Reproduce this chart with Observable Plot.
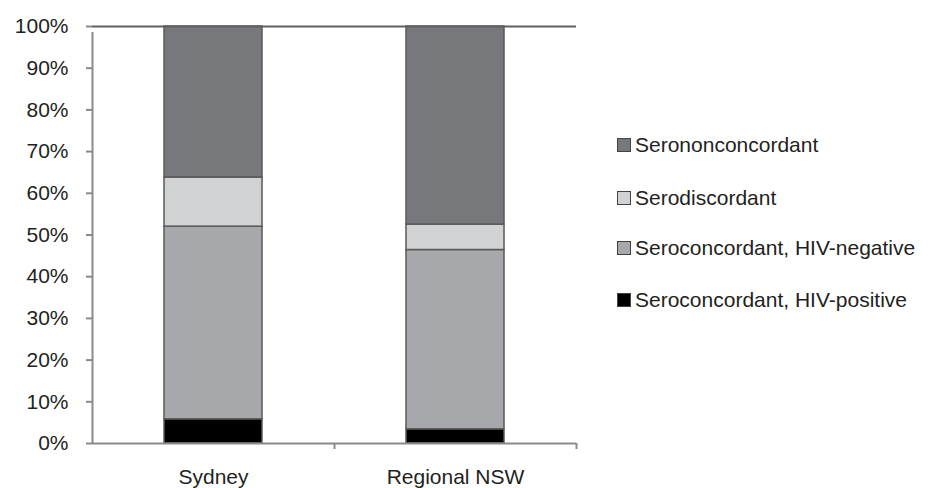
<!DOCTYPE html>
<html>
<head>
<meta charset="utf-8">
<script src="https://cdn.jsdelivr.net/npm/d3@7"></script>
<script src="https://cdn.jsdelivr.net/npm/@observablehq/plot@0.6"></script>
<style>
  html, body { margin: 0; padding: 0; background: #fff; }
  #wrap { position: relative; width: 934px; height: 488px; font-family: "Liberation Sans", Arial, sans-serif; }
  #legend { position: absolute; left: 617px; top: 0; }
  .item { position: absolute; left: 0; white-space: nowrap; font-size: 21px; color: #231f20; display: flex; align-items: center; height: 24px; }
  .sw { width: 12px; height: 12px; border: 1px solid #444; margin-right: 4px; box-sizing: content-box; }
</style>
</head>
<body>
<div id="wrap"><div id="legend"></div></div>
<script>
const sites = ["Sydney", "Regional NSW"];
const categories = ["Seroconcordant, HIV-positive", "Seroconcordant, HIV-negative", "Serodiscordant", "Serononconcordant"];
const sydney = [5.8, 46.2, 11.8, 36.2];
const regional = [3.4, 43.0, 6.1, 47.5];
const yTicks = [0, 10, 20, 30, 40, 50, 60, 70, 80, 90, 100];
const colors = ["#000000", "#a7a8ab", "#d1d2d4", "#77787b"];

const data = [];
categories.forEach((c, i) => {
  data.push({site: sites[0], category: c, value: sydney[i]});
  data.push({site: sites[1], category: c, value: regional[i]});
});

const W = 934, H = 488, mL = 92, mR = 358, mT = 26, mB = 45;
const step = (W - mL - mR) / sites.length;
const axisColor = "#8a8a8c";
const pIn = 0.595;

const plot = Plot.plot({
  width: W,
  height: H,
  marginLeft: mL,
  marginRight: mR,
  marginTop: mT,
  marginBottom: mB,
  style: {fontFamily: "'Liberation Sans', Arial, sans-serif", fontSize: "21px", color: "#231f20", background: "#fff", overflow: "visible"},
  x: {domain: sites, paddingInner: pIn, paddingOuter: pIn / 2, label: null},
  y: {domain: [0, 100], label: null},
  color: {domain: categories, range: colors},
  marks: [
    Plot.barY(data, {x: "site", y: "value", fill: "category", order: categories, stroke: "#595959", strokeWidth: 1.5}),
    Plot.ruleY([100], {stroke: "#606060", strokeWidth: 2}),
    Plot.ruleY([0], {stroke: axisColor, strokeWidth: 2}),
    // y axis line at left boundary of first band, extending slightly below 0
    Plot.ruleX([sites[0]], {x: d => d, dx: -step / 2, y1: 0, y2: 100, insetBottom: -6, stroke: axisColor, strokeWidth: 2}),
    // x boundary ticks to the right of each band
    Plot.ruleX(sites, {x: d => d, dx: step / 2, y1: 0, y2: 0, insetBottom: -6, stroke: axisColor, strokeWidth: 2}),
    Plot.axisY({ticks: yTicks, tickFormat: d => d + "%", tickSize: 6, tickPadding: 18, stroke: axisColor, strokeWidth: 2}),
    Plot.axisX({tickSize: 0, tickPadding: 26, label: null})
  ]
});
document.getElementById("wrap").prepend(plot);

// legend
const legendOrder = categories.slice().reverse();
const legendColors = colors.slice().reverse();
const rowTops = [133, 186, 236, 288];
const legend = document.getElementById("legend");
legendOrder.forEach((c, i) => {
  const it = document.createElement("div");
  it.className = "item";
  it.style.top = rowTops[i] + "px";
  const sw = document.createElement("span");
  sw.className = "sw";
  sw.style.background = legendColors[i];
  it.appendChild(sw);
  const t = document.createElement("span");
  t.textContent = c;
  it.appendChild(t);
  legend.appendChild(it);
});
</script>
</body>
</html>
